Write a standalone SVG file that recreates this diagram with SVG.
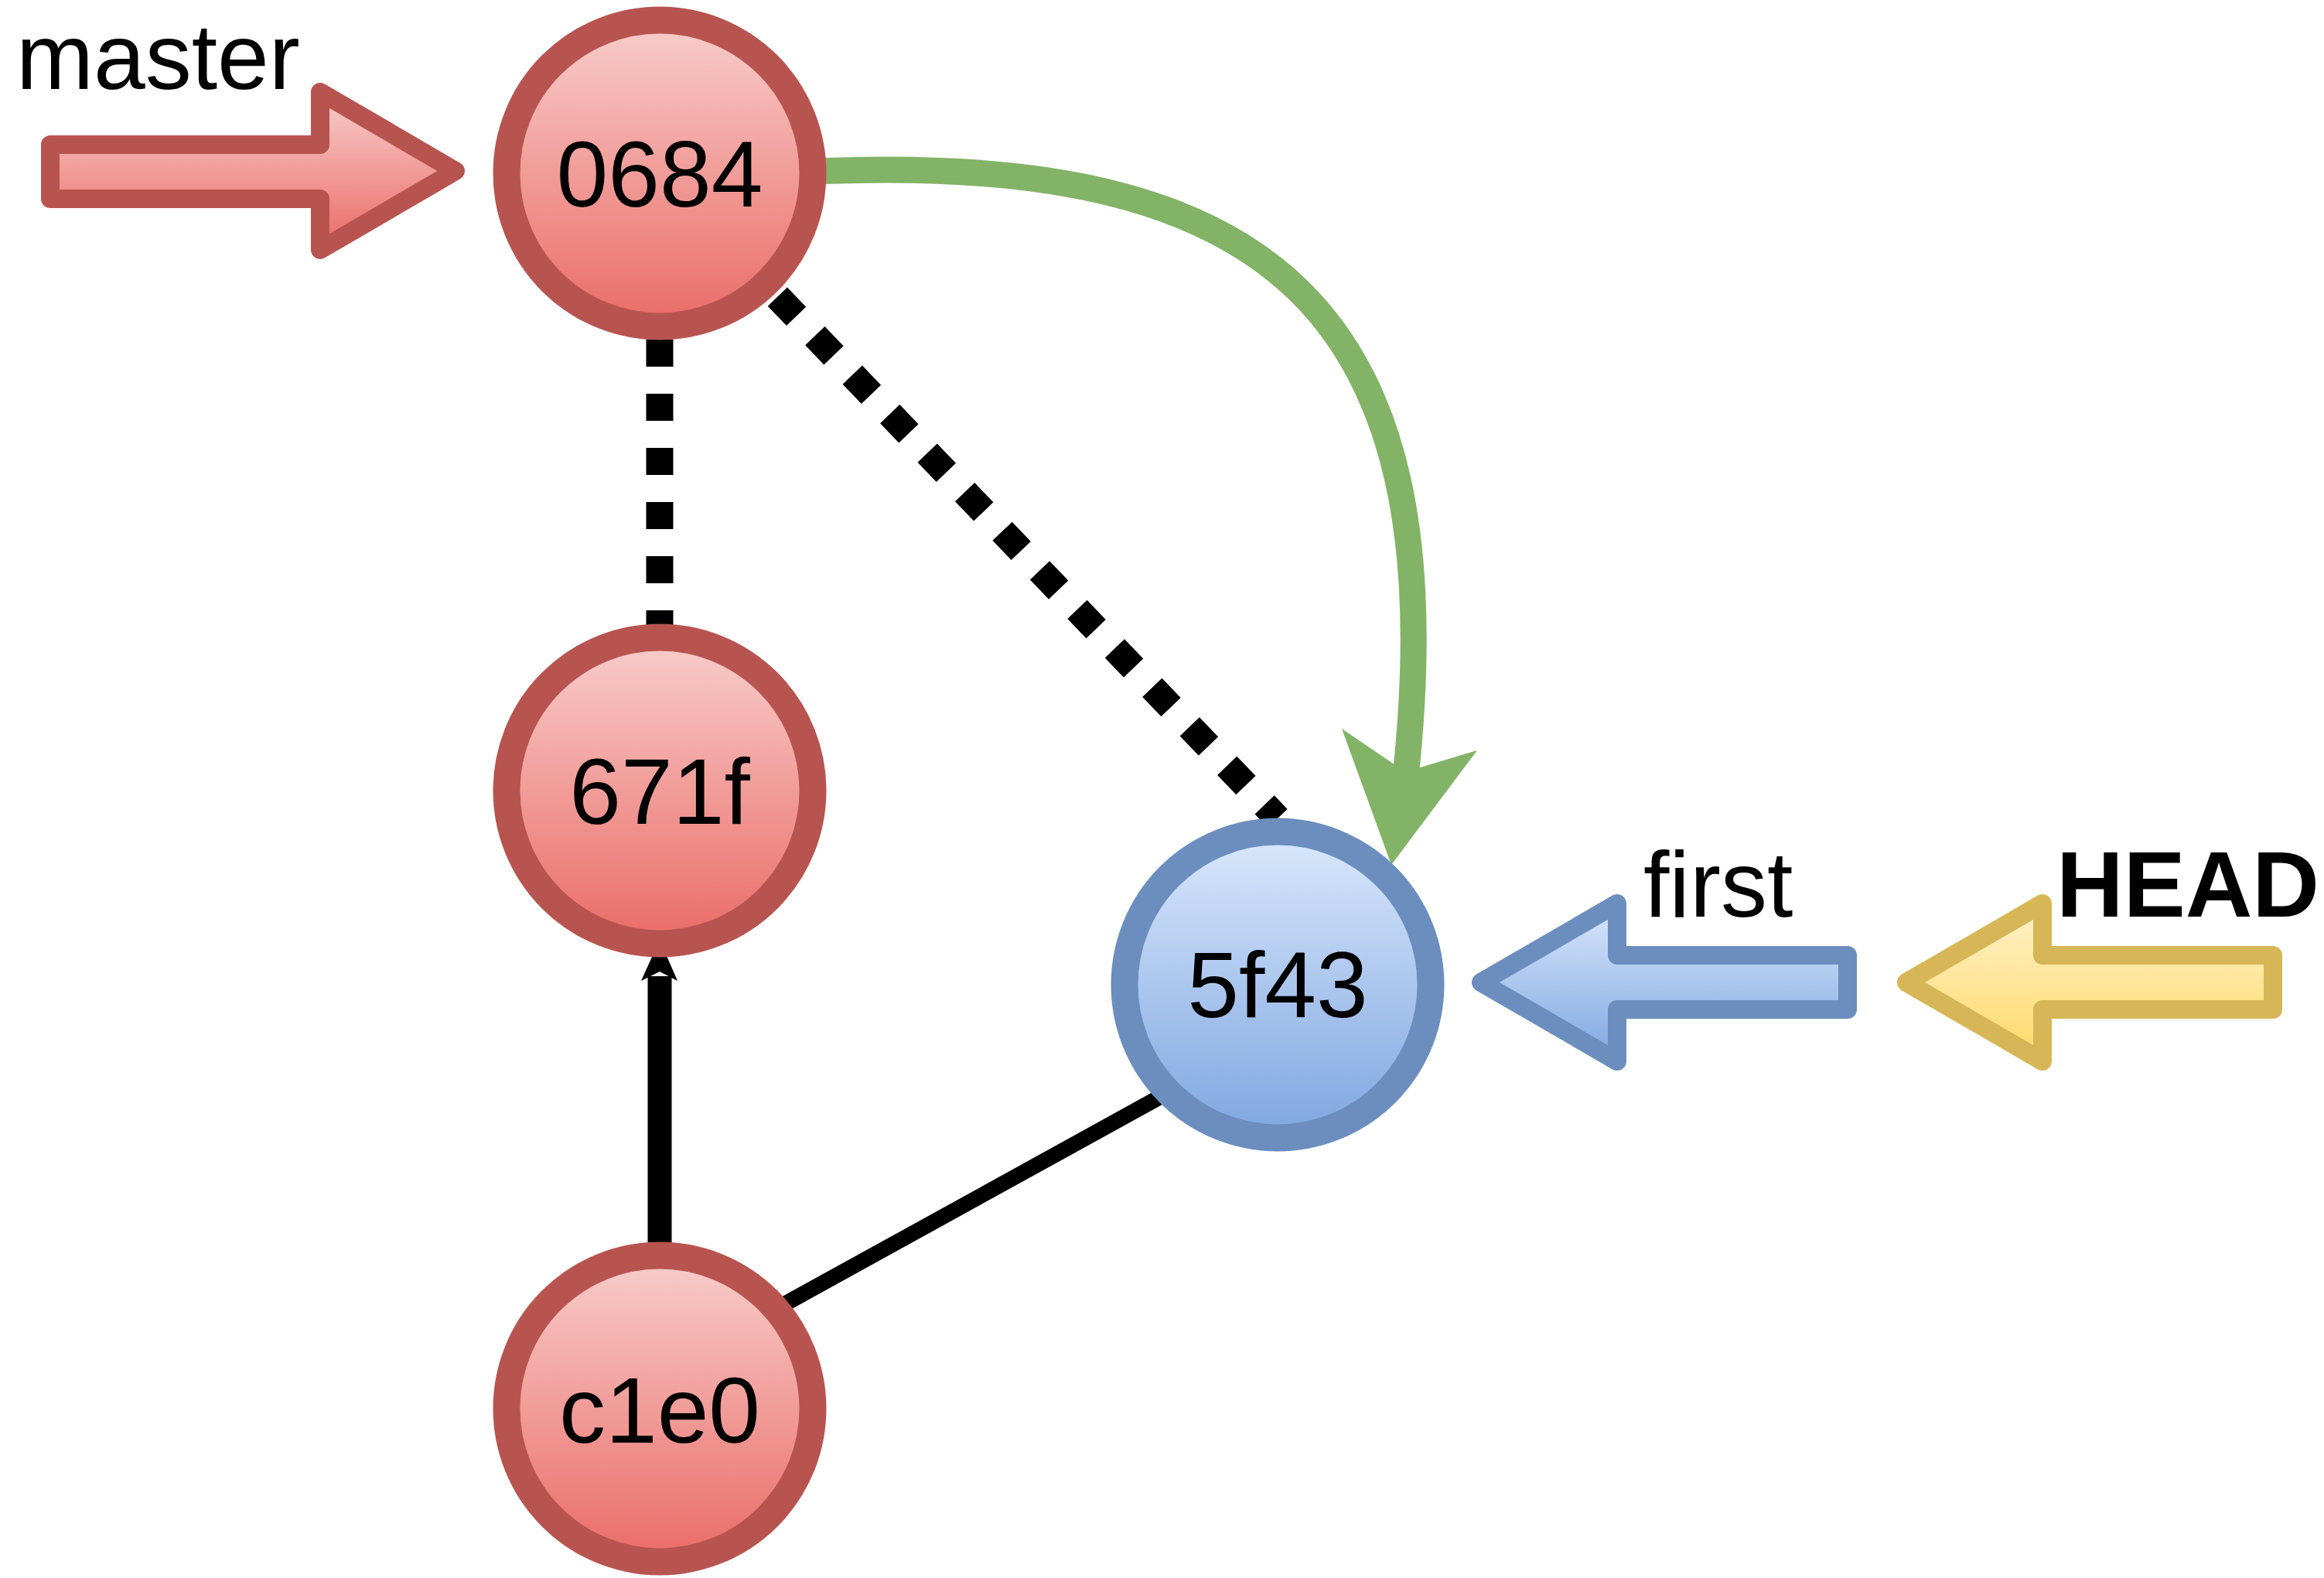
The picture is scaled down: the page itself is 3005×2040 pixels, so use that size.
<svg xmlns="http://www.w3.org/2000/svg" width="3005" height="2040" viewBox="0 0 3005 2040">
<defs>
<linearGradient id="gRed" x1="0" y1="0" x2="0" y2="1"><stop offset="0" stop-color="#f8cecc"/><stop offset="1" stop-color="#ea6b66"/></linearGradient>
<linearGradient id="gBlue" x1="0" y1="0" x2="0" y2="1"><stop offset="0" stop-color="#dae8fc"/><stop offset="1" stop-color="#7ea6e0"/></linearGradient>
<linearGradient id="gYellow" x1="0" y1="0" x2="0" y2="1"><stop offset="0" stop-color="#fff2cc"/><stop offset="1" stop-color="#ffd966"/></linearGradient>
</defs>
<style>
.red{fill:url(#gRed);stroke:#b85450;stroke-width:35}
.blue{fill:url(#gBlue);stroke:#6c8ebf;stroke-width:35}
.ptr{stroke-width:24;stroke-linejoin:round}
.ptr-red{fill:url(#gRed);stroke:#b85450}
.ptr-blue{fill:url(#gBlue);stroke:#6c8ebf}
.ptr-yellow{fill:url(#gYellow);stroke:#d6b656}
.lbl{font-family:"Liberation Sans",Arial,Helvetica,sans-serif;font-size:120px;fill:#000}
.hash{text-anchor:middle}
.bold{font-weight:bold}
.dash{fill:none;stroke:#000;stroke-width:35;stroke-dasharray:35 35}
.edge{fill:none;stroke:#000}
.green{fill:none;stroke:#82b366;stroke-width:34}
</style>
<rect width="3005" height="2040" fill="#ffffff"/>
<g id="connectors">
<path class="dash" d="M853 439 L853 808"/>
<path class="dash" d="M860 232 L1652 1058"/>
<path class="edge" stroke-width="31" d="M853 1606 L853 1262"/>
<polygon points="853,1215 876,1268 853,1256 829,1268" fill="#000"/>
<path class="edge" stroke-width="20" d="M900 1749 L1560 1385"/>
<path class="green" d="M1067 221 C1630 200 1885 390 1817 1008"/>
<polygon points="1799,1118 1735,942 1817,998 1910,970" fill="#82b366"/>
</g>
<g id="node-0684"><circle class="red" cx="853" cy="224" r="198"/><text class="lbl hash" x="853" y="267">0684</text></g>
<g id="node-671f"><circle class="red" cx="853" cy="1022" r="198"/><text class="lbl hash" x="853" y="1065">671f</text></g>
<g id="node-c1e0"><circle class="red" cx="853" cy="1821" r="198"/><text class="lbl hash" x="853" y="1865">c1e0</text></g>
<g id="node-5f43"><circle class="blue" cx="1652" cy="1273" r="198"/><text class="lbl hash" x="1652" y="1315">5f43</text></g>
<g id="ref-master"><polygon class="ptr ptr-red" points="65,187 414,187 414,119 589,221 414,323 414,257 65,257"/><text class="lbl" x="21" y="115">master</text></g>
<g id="ref-first"><polygon class="ptr ptr-blue" points="1915,1270 2091,1168 2091,1235 2389,1235 2389,1305 2091,1305 2091,1372"/><text class="lbl" x="2125" y="1185">first</text></g>
<g id="ref-head"><polygon class="ptr ptr-yellow" points="2465,1270 2641,1168 2641,1235 2939,1235 2939,1305 2641,1305 2641,1372"/><text class="lbl bold" x="2659" y="1185">HEAD</text></g>
</svg>
